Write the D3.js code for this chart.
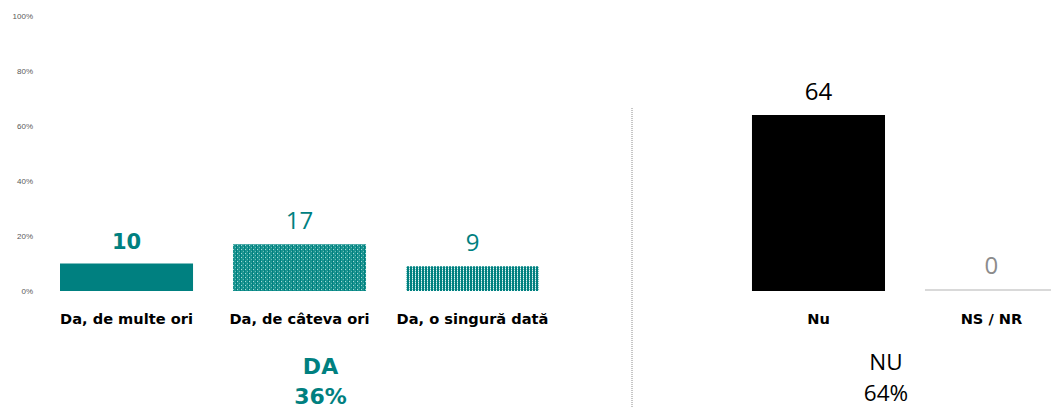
<!DOCTYPE html>
<html>
<head>
<meta charset="utf-8">
<script src="https://cdn.jsdelivr.net/npm/d3@7"></script>
<style>
  body { margin: 0; background: #fff; }
  svg { display: block; }
</style>
</head>
<body>
<svg width="1051" height="408"></svg>
<script>
// data
const categories = ['Da, de multe ori', 'Da, de câteva ori', 'Da, o singură dată', '', 'Nu', 'NS / NR'];
const values = [10, 17, 9, null, 64, 0];
const yTicks = [0, 20, 40, 60, 80, 100];
const groupLabels = ['DA', 'NU'];
const groupTotals = ['36%', '64%'];

const teal = '#008080';
const svg = d3.select('svg');
const width = 1051;

// 6 slots of 173px, bars 133px wide, slot 3 left empty as a gap
const x = d3.scaleBand()
  .domain(categories.map((d, i) => i))
  .range([60, 1058])
  .paddingInner(0.231)
  .paddingOuter(0);

const y = d3.scaleLinear().domain([0, 100]).range([291, 16]);

// patterns
const defs = svg.append('defs');
const dots = defs.append('pattern')
  .attr('id', 'dots').attr('patternUnits', 'userSpaceOnUse')
  .attr('width', 4).attr('height', 4);
dots.append('rect').attr('width', 4).attr('height', 4).attr('fill', '#1a938f');
dots.append('rect').attr('x', 1).attr('y', 1).attr('width', 1).attr('height', 1).attr('fill', '#a6dcd8');
dots.append('rect').attr('x', 3).attr('y', 3).attr('width', 1).attr('height', 1).attr('fill', '#6cbdb8');
dots.append('rect').attr('x', 0).attr('y', 0).attr('width', 1).attr('height', 4).attr('fill', teal);

const stripes = defs.append('pattern')
  .attr('id', 'stripes').attr('patternUnits', 'userSpaceOnUse')
  .attr('width', 3).attr('height', 2);
stripes.append('rect').attr('width', 3).attr('height', 2).attr('fill', teal);
stripes.append('rect').attr('x', 1).attr('width', 1).attr('height', 1).attr('fill', '#e8f6f5');
stripes.append('rect').attr('x', 1).attr('y', 1).attr('width', 1).attr('height', 1).attr('fill', '#7cc6c1');

const fills = [teal, 'url(#dots)', 'url(#stripes)', 'none', '#000', '#d9d9d9'];
const labelColors = [teal, teal, teal, 'none', '#000', '#8c8c8c'];

// y axis labels (no line)
const yAxis = d3.axisLeft(y).tickValues(yTicks).tickFormat(d => d + '%').tickSize(0).tickPadding(0);
svg.append('g')
  .attr('transform', 'translate(33,0)')
  .call(yAxis)
  .call(g => g.select('.domain').remove())
  .call(g => g.selectAll('text')
    .attr('fill', '#595959')
    .attr('font-family', 'Liberation Sans, Arial, sans-serif')
    .attr('font-size', 8));

const data = categories.map((c, i) => ({ c, i, v: values[i] })).filter(d => d.v !== null);
const barTop = d => d.v === 0 ? y(0) - 2 : y(d.v);

// bars
svg.append('g').selectAll('rect')
  .data(data)
  .join('rect')
  .attr('x', d => x(d.i))
  .attr('y', barTop)
  .attr('width', d => d.i === 5 ? width - x(d.i) : x.bandwidth())
  .attr('height', d => y(0) - barTop(d))
  .attr('fill', d => fills[d.i]);

// value labels
svg.append('g').selectAll('text')
  .data(data)
  .join('text')
  .attr('x', d => x(d.i) + x.bandwidth() / 2)
  .attr('y', d => barTop(d) - 15)
  .attr('text-anchor', 'middle')
  .attr('font-family', d => d.i === 0 ? 'DejaVu Sans, sans-serif' : 'Open Sans, sans-serif')
  .attr('font-size', d => d.i === 0 ? 21 : 24)
  .attr('font-weight', d => d.i === 0 ? 'bold' : 'normal')
  .attr('fill', d => labelColors[d.i])
  .text(d => d.v);

// category labels
svg.append('g').selectAll('text')
  .data(data)
  .join('text')
  .attr('x', d => x(d.i) + x.bandwidth() / 2)
  .attr('y', 324)
  .attr('text-anchor', 'middle')
  .attr('font-family', 'DejaVu Sans, sans-serif')
  .attr('font-size', 14.6)
  .attr('font-weight', 'bold')
  .attr('fill', '#000')
  .text(d => d.c);

// divider
svg.append('line')
  .attr('x1', 632).attr('x2', 632)
  .attr('y1', 108).attr('y2', 408)
  .attr('stroke', '#8c8c8c')
  .attr('stroke-width', 1)
  .attr('stroke-dasharray', '1,1');

// group totals
const groupX = [x(1) + x.bandwidth() / 2 + 21, x(4) + x.bandwidth() + 1];
const rowY = [[374, 404], [370, 401]];
const gt = svg.append('g').selectAll('g')
  .data(groupLabels)
  .join('g')
  .attr('transform', (d, i) => `translate(${groupX[i]},0)`)
  .attr('text-anchor', 'middle')
  .attr('font-family', (d, i) => i === 0 ? 'DejaVu Sans, sans-serif' : 'Open Sans, sans-serif')
  .attr('font-weight', (d, i) => i === 0 ? 'bold' : 'normal')
  .attr('fill', (d, i) => i === 0 ? teal : '#000');
gt.append('text')
  .attr('y', (d, i) => rowY[i][0])
  .attr('font-size', (d, i) => i === 0 ? 22 : 22.5)
  .text(d => d);
gt.append('text')
  .attr('y', (d, i) => rowY[i][1])
  .attr('font-size', (d, i) => i === 0 ? 22 : 22.5)
  .text((d, i) => groupTotals[i]);
</script>
</body>
</html>
